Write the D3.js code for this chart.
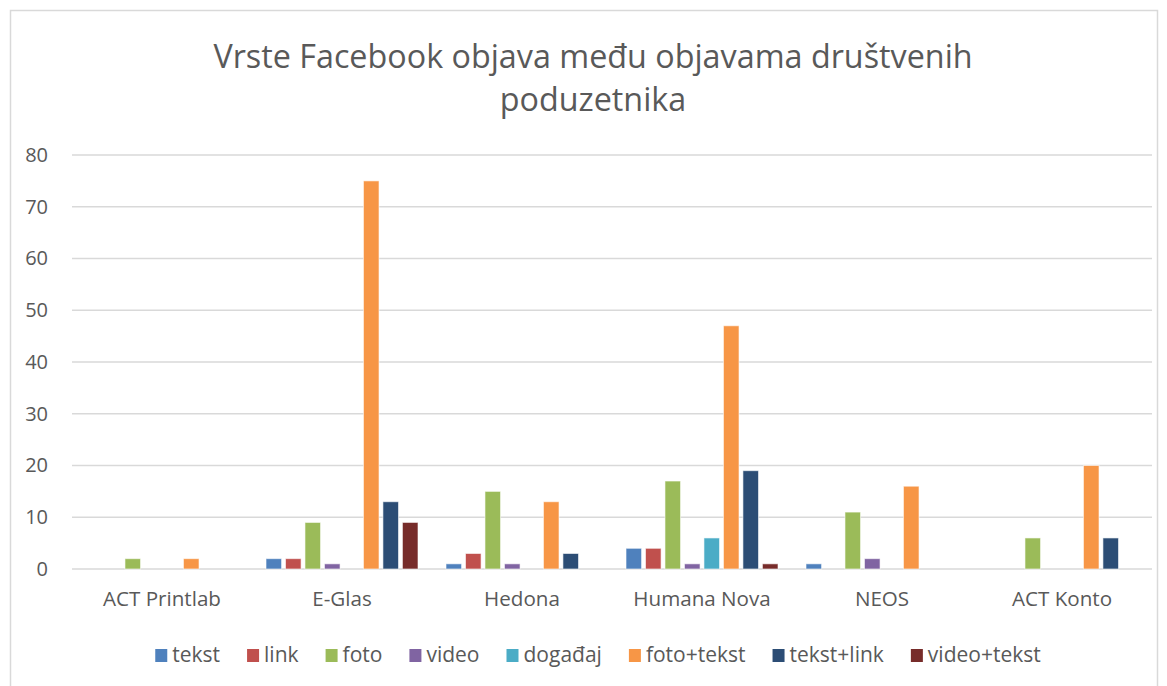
<!DOCTYPE html>
<html>
<head>
<meta charset="utf-8">
<script src="https://cdn.jsdelivr.net/npm/d3@7"></script>
<style>
  body { margin: 0; background: #fff; }
  text { font-family: "Open Sans", sans-serif; fill: #595959; }
</style>
</head>
<body>
<svg width="1167" height="686"></svg>
<script>
var categories = ["ACT Printlab", "E-Glas", "Hedona", "Humana Nova", "NEOS", "ACT Konto"];
var seriesNames = ["tekst", "link", "foto", "video", "događaj", "foto+tekst", "tekst+link", "video+tekst"];
var seriesColors = ["#4f81bd", "#c0504d", "#9bbb59", "#8064a2", "#4bacc6", "#f79646", "#2c4d75", "#772c2a"];
// one array per series, in category order
var tekst      = [0, 2, 1, 4, 1, 0];
var link       = [0, 2, 3, 4, 0, 0];
var foto       = [2, 9, 15, 17, 11, 6];
var video      = [0, 1, 1, 1, 2, 0];
var dogadaj    = [0, 0, 0, 6, 0, 0];
var fotoTekst  = [2, 75, 13, 47, 16, 20];
var tekstLink  = [0, 13, 3, 19, 0, 6];
var videoTekst = [0, 9, 0, 1, 0, 0];
var yTicks = [0, 10, 20, 30, 40, 50, 60, 70, 80];
var title = ["Vrste Facebook objava među objavama društvenih", "poduzetnika"];

var values = [tekst, link, foto, video, dogadaj, fotoTekst, tekstLink, videoTekst];

var svg = d3.select("svg"),
    margin = {top: 155, right: 15, bottom: 117, left: 72},
    width = 1152 - margin.left,
    height = 569 - margin.top;

// chart frame
svg.append("rect")
    .attr("x", 10.5).attr("y", 10.5)
    .attr("width", 1147).attr("height", 700)
    .attr("fill", "none").attr("stroke", "#d9d9d9").attr("stroke-width", 1.5);

svg.selectAll(".title")
    .data(title)
    .enter().append("text")
    .attr("class", "title")
    .attr("x", 593)
    .attr("y", function(d, i) { return 68 + i * 43; })
    .attr("text-anchor", "middle")
    .style("font-size", "32.3px")
    .text(function(d) { return d; });

var xScale = d3.scaleBand().domain(categories).range([0, width]),
    xInner = d3.scaleBand().domain(seriesNames).range([0, 152]).paddingInner(0.2),
    yScale = d3.scaleLinear().domain([0, 80]).range([height, 0]);

var g = svg.append("g")
    .attr("transform", "translate(" + margin.left + "," + margin.top + ")");

// gridlines
g.selectAll(".grid")
    .data(yTicks)
    .enter().append("line")
    .attr("x1", 0).attr("x2", width)
    .attr("y1", function(d) { return yScale(d); })
    .attr("y2", function(d) { return yScale(d); })
    .attr("stroke", "#d9d9d9").attr("stroke-width", 1.5);

var yAxis = g.append("g")
    .call(d3.axisLeft(yScale).tickValues(yTicks).tickSize(0).tickPadding(24));
yAxis.select(".domain").remove();
yAxis.selectAll("text").style("font-size", "20px").attr("fill", "#595959");

var xAxis = g.append("g")
    .attr("transform", "translate(0," + height + ")")
    .call(d3.axisBottom(xScale).tickSize(0).tickPadding(22));
xAxis.select(".domain").remove();
xAxis.selectAll("text").style("font-size", "20.6px").attr("fill", "#595959");

var groups = g.selectAll(".cat")
    .data(categories)
    .enter().append("g")
    .attr("class", "cat")
    .attr("transform", function(d) { return "translate(" + (xScale(d) + (xScale.bandwidth() - 152) / 2) + ",0)"; });

groups.selectAll("rect")
    .data(function(d, ci) {
        return seriesNames.map(function(s, si) { return {s: s, v: values[si][ci], c: seriesColors[si]}; });
    })
    .enter().filter(function(d) { return d.v > 0; })
    .append("rect")
    .attr("x", function(d) { return xInner(d.s); })
    .attr("width", xInner.bandwidth())
    .attr("y", function(d) { return yScale(d.v); })
    .attr("height", function(d) { return height - yScale(d.v); })
    .attr("fill", function(d) { return d.c; })
    .attr("stroke", "#fff").attr("stroke-opacity", 0.6).attr("stroke-width", 1);

// legend
var legend = svg.append("g");
var items = legend.selectAll(".item")
    .data(seriesNames)
    .enter().append("g").attr("class", "item");
items.append("rect")
    .attr("y", -6).attr("width", 12).attr("height", 13)
    .attr("fill", function(d, i) { return seriesColors[i]; });
items.append("text")
    .attr("x", 17).attr("y", 7)
    .style("font-size", "21px")
    .text(function(d) { return d; });
var xpos = 0, gap = 27;
items.each(function() {
    var w = d3.select(this).select("text").node().getComputedTextLength();
    d3.select(this).attr("transform", "translate(" + xpos + ",0)");
    xpos += 17 + w + gap;
});
var total = xpos - gap;
legend.attr("transform", "translate(" + (598 - total / 2) + ",655)");
</script>
</body>
</html>
